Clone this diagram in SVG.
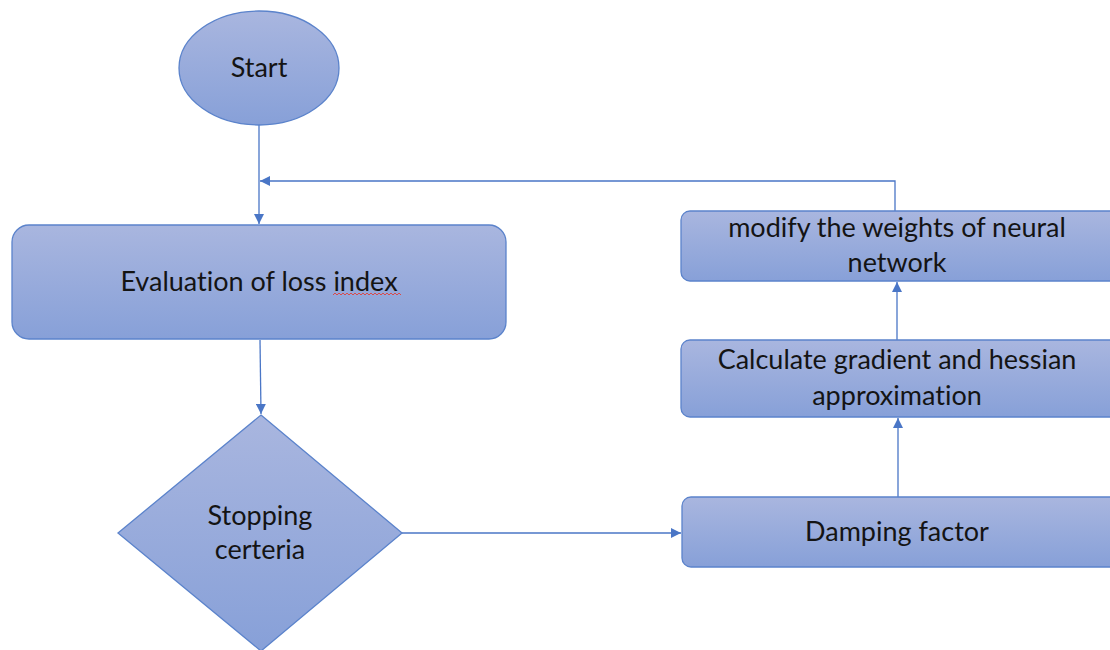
<svg xmlns="http://www.w3.org/2000/svg" width="1110" height="650" viewBox="0 0 1110 650">
  <defs>
    <linearGradient id="fillGrad" x1="0" y1="0" x2="0" y2="1">
      <stop offset="0" stop-color="#a9b6df"/>
      <stop offset="1" stop-color="#87a0d8"/>
    </linearGradient>
    <marker id="arrow" viewBox="0 0 10 10" refX="10" refY="5" markerWidth="10" markerHeight="10" markerUnits="userSpaceOnUse" orient="auto">
      <path d="M0,0 L10,5 L0,10 z" fill="#4a76c6"/>
    </marker>
    <style>
      .shape { fill: url(#fillGrad); stroke: #5b83cb; stroke-width: 1.3; }
      .label { font-family: Lato, "Open Sans", sans-serif; font-size: 27px; fill: #141414; text-anchor: middle; font-variant-ligatures: none; font-feature-settings: "liga" 0, "dlig" 0; }
      .conn { fill: none; stroke: #4a76c6; stroke-width: 1.3; }
    </style>
  </defs>
  <rect width="1110" height="650" fill="#ffffff"/>

  <!-- connectors -->
  <g id="connectors">
    <path class="conn" d="M259,125 L259,224" marker-end="url(#arrow)"/>
    <path class="conn" d="M895,211 L895,181 L260,181" marker-end="url(#arrow)"/>
    <path class="conn" d="M260,340 L261,414" marker-end="url(#arrow)"/>
    <path class="conn" d="M402,533 L681,533" marker-end="url(#arrow)"/>
    <path class="conn" d="M898,497 L898,418" marker-end="url(#arrow)"/>
    <path class="conn" d="M897,340 L897,282" marker-end="url(#arrow)"/>
  </g>

  <g id="start">
    <ellipse class="shape" cx="259" cy="68" rx="80" ry="57"/>
    <text class="label" x="259" y="77">Start</text>
  </g>

  <g id="evaluation">
    <rect class="shape" x="12" y="225" width="494" height="114" rx="17"/>
    <text class="label" x="259" y="291">Evaluation of loss index</text>
    <!-- spell-check underline -->
    <path d="M333,295 l2,-2 l2,2 l2,-2 l2,2 l2,-2 l2,2 l2,-2 l2,2 l2,-2 l2,2 l2,-2 l2,2 l2,-2 l2,2 l2,-2 l2,2 l2,-2 l2,2 l2,-2 l2,2 l2,-2 l2,2 l2,-2 l2,2 l2,-2 l2,2 l2,-2 l2,2 l2,-2 l2,2 l2,-2 l2,2 l2,-2 l2,2" fill="none" stroke="#e0403a" stroke-width="0.9"/>
  </g>

  <g id="stopping">
    <polygon class="shape" points="261,415 402,533 261,651 118,533"/>
    <text class="label" x="260" y="525">Stopping</text>
    <text class="label" x="260" y="559">certeria</text>
  </g>

  <g id="damping">
    <rect class="shape" x="682" y="497" width="440" height="70" rx="9"/>
    <text class="label" x="897" y="541">Damping factor</text>
  </g>

  <g id="gradient">
    <rect class="shape" x="681" y="340" width="440" height="77" rx="9"/>
    <text class="label" x="897" y="369">Calculate gradient and hessian</text>
    <text class="label" x="897" y="405">approximation</text>
  </g>

  <g id="modify">
    <rect class="shape" x="681" y="211" width="440" height="70" rx="9"/>
    <text class="label" x="897" y="237">modify the weights of neural</text>
    <text class="label" x="897" y="272">network</text>
  </g>
</svg>
